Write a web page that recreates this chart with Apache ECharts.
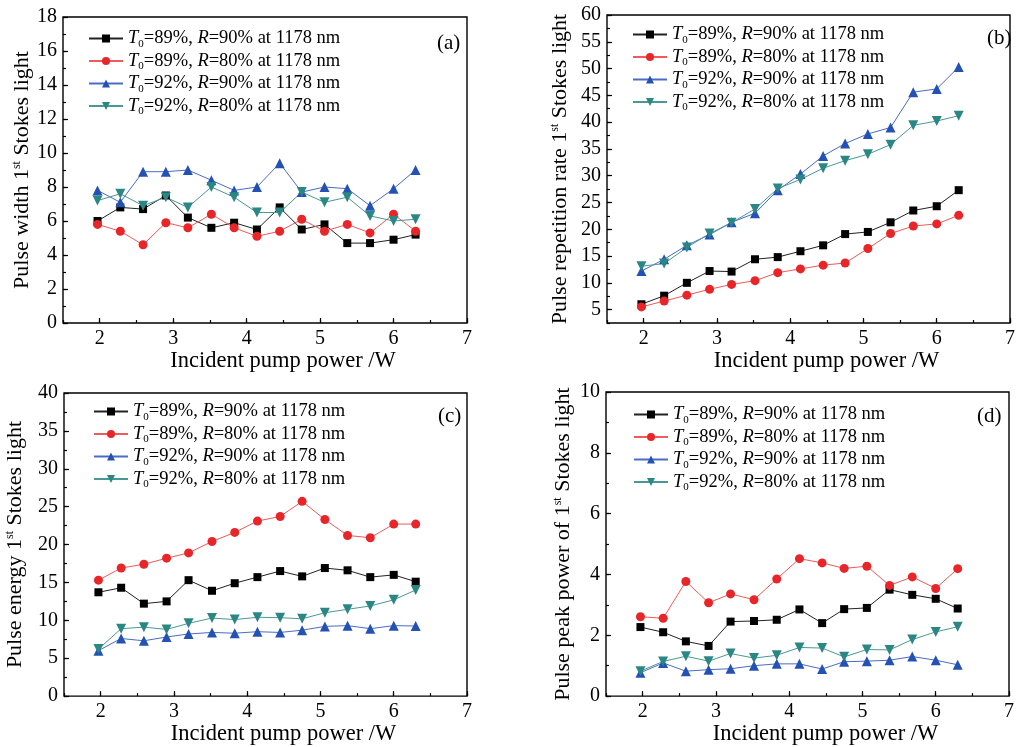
<!DOCTYPE html>
<html>
<head>
<meta charset="utf-8">
<script src="https://cdn.jsdelivr.net/npm/echarts@6/dist/echarts.min.js"></script>
<style>
  html, body { margin: 0; padding: 0; background: #fff; }
  #chart { width: 1018px; height: 747px; }
</style>
</head>
<body>
<div id="chart"></div>
<script>
// incident pump power (W), same for every curve
var power = [1.97, 2.28, 2.59, 2.90, 3.20, 3.52, 3.83, 4.14, 4.45, 4.75, 5.06, 5.37, 5.68, 6.00, 6.30];

var seriesNames = ['T0=89%, R=90% at 1178 nm', 'T0=89%, R=80% at 1178 nm', 'T0=92%, R=90% at 1178 nm', 'T0=92%, R=80% at 1178 nm'];
var legendT0 = ['89', '89', '92', '92'];
var legendR = ['90', '80', '90', '80'];

// (a) pulse width
var widthT89R90 = [6.0, 6.8, 6.7, 7.5, 6.2, 5.6, 5.9, 5.5, 6.8, 5.5, 5.8, 4.7, 4.7, 4.9, 5.2];
var widthT89R80 = [5.8, 5.4, 4.6, 5.9, 5.6, 6.4, 5.6, 5.1, 5.4, 6.1, 5.4, 5.8, 5.3, 6.4, 5.4];
var widthT92R90 = [7.8, 7.1, 8.9, 8.9, 9.0, 8.4, 7.8, 8.0, 9.4, 7.7, 8.0, 7.9, 6.9, 7.9, 9.0];
var widthT92R80 = [7.2, 7.6, 6.9, 7.4, 6.8, 8.0, 7.4, 6.5, 6.5, 7.7, 7.1, 7.4, 6.3, 6.0, 6.1];

// (b) pulse repetition rate
var rateT89R90 = [6.0, 7.6, 10.0, 12.2, 12.1, 14.4, 14.8, 15.9, 17.0, 19.1, 19.5, 21.3, 23.5, 24.3, 27.3];
var rateT89R80 = [5.5, 6.6, 7.7, 8.8, 9.7, 10.4, 11.9, 12.6, 13.3, 13.7, 16.4, 19.2, 20.6, 21.0, 22.6];
var rateT92R90 = [12.2, 14.4, 17.0, 19.0, 21.3, 23.0, 27.3, 30.3, 33.7, 36.0, 37.8, 39.0, 45.6, 46.2, 50.3];
var rateT92R80 = [13.1, 13.6, 16.6, 19.2, 21.2, 23.8, 27.6, 29.3, 31.4, 32.8, 34.0, 35.8, 39.4, 40.2, 41.2];

// (c) pulse energy
var energyT89R90 = [13.7, 14.3, 12.2, 12.5, 15.3, 13.9, 14.9, 15.7, 16.5, 15.8, 16.9, 16.6, 15.7, 16.0, 15.1];
var energyT89R80 = [15.3, 16.9, 17.4, 18.2, 18.9, 20.4, 21.6, 23.1, 23.7, 25.7, 23.3, 21.2, 20.9, 22.7, 22.7];
var energyT92R90 = [6.0, 7.6, 7.3, 7.8, 8.2, 8.4, 8.3, 8.5, 8.4, 8.7, 9.2, 9.3, 8.9, 9.3, 9.25];
var energyT92R80 = [6.2, 8.9, 9.1, 8.8, 9.6, 10.3, 10.1, 10.4, 10.35, 10.2, 11.0, 11.45, 11.9, 12.7, 14.0];

// (d) pulse peak power
var peakT89R90 = [2.27, 2.10, 1.80, 1.65, 2.45, 2.47, 2.51, 2.85, 2.40, 2.86, 2.90, 3.50, 3.33, 3.20, 2.88];
var peakT89R80 = [2.61, 2.56, 3.77, 3.07, 3.36, 3.17, 3.85, 4.52, 4.38, 4.20, 4.27, 3.64, 3.92, 3.54, 4.19];
var peakT92R90 = [0.77, 1.09, 0.82, 0.87, 0.90, 1.00, 1.06, 1.06, 0.89, 1.13, 1.15, 1.18, 1.30, 1.18, 1.03];
var peakT92R80 = [0.82, 1.14, 1.31, 1.15, 1.40, 1.25, 1.34, 1.60, 1.58, 1.29, 1.53, 1.52, 1.86, 2.11, 2.28];

var xTicks = [2, 3, 4, 5, 6, 7];
var widthTicks = [0, 2, 4, 6, 8, 10, 12, 14, 16, 18];
var rateTicks = [5, 10, 15, 20, 25, 30, 35, 40, 45, 50, 55, 60];
var energyTicks = [0, 5, 10, 15, 20, 25, 30, 35, 40];
var peakTicks = [0, 2, 4, 6, 8, 10];

var serif = 'Liberation Serif';
var colors = ['#000000', '#e8262a', '#2452b4', '#2a8783'];
var lineColors = ['#222222', '#f05a5a', '#4a6cc4', '#4a9894'];
var symbols = ['rect', 'circle', 'triangle', 'path://M0,0 L10,0 L5,9 Z'];
var symbolSizes = [8, 9, 10, 10];

var panels = [
    { tag: '(a)', grid: { left: 63, top: 17, width: 404, height: 306 }, yMin: 0, yMax: 18, yTicks: widthTicks, yMinor: 1,
      yName: 'Pulse width 1{sup|st} Stokes light', yGap: 30, data: [widthT89R90, widthT89R80, widthT92R90, widthT92R80],
      legend: { left: 83, top: 24 }, tagPos: { left: 432, top: 28 } },
    { tag: '(b)', grid: { left: 607, top: 15, width: 406, height: 308 }, yMin: 2.5, yMax: 60, yTicks: rateTicks, yMinor: 2.5,
      yName: 'Pulse repetition rate 1{sup|st} Stokes light', yGap: 36, data: [rateT89R90, rateT89R80, rateT92R90, rateT92R80],
      legend: { left: 627, top: 20 }, tagPos: { left: 982, top: 23 } },
    { tag: '(c)', grid: { left: 64, top: 393, width: 403, height: 304 }, yMin: 0, yMax: 40, yTicks: energyTicks, yMinor: 2.5,
      yName: 'Pulse energy 1{sup|st} Stokes light', yGap: 38, data: [energyT89R90, energyT89R80, energyT92R90, energyT92R80],
      legend: { left: 88, top: 397 }, tagPos: { left: 433, top: 401 } },
    { tag: '(d)', grid: { left: 606, top: 392, width: 403, height: 305 }, yMin: 0, yMax: 10, yTicks: peakTicks, yMinor: 1,
      yName: 'Pulse peak power of 1{sup|st} Stokes light', yGap: 32, data: [peakT89R90, peakT89R80, peakT92R90, peakT92R80],
      legend: { left: 628, top: 400 }, tagPos: { left: 972, top: 401 } }
];

var chart = echarts.init(document.getElementById('chart'));

var grids = [], xAxes = [], yAxes = [], series = [], legends = [], titles = [];

panels.forEach(function (p, k) {
    grids.push(Object.assign({ show: true, borderColor: '#000', borderWidth: 1.4, backgroundColor: 'transparent' }, p.grid));

    // main x axis: labels and long ticks
    xAxes.push({
        type: 'value', gridIndex: k, min: 1.5, max: 7, position: 'bottom',
        name: 'Incident pump power /W', nameLocation: 'middle', nameGap: 25,
        nameTextStyle: { fontFamily: serif, fontSize: 22.5, color: '#000', padding: [0, 0, 0, 36] },
        axisLine: { show: false, onZero: false },
        axisTick: { show: true, inside: true, length: 5, customValues: xTicks, lineStyle: { color: '#000', width: 1.2 } },
        axisLabel: { customValues: xTicks, fontFamily: serif, fontSize: 20, color: '#000', margin: 6 },
        splitLine: { show: false }
    });
    // minor x ticks
    xAxes.push({
        type: 'value', gridIndex: k, min: 1.5, max: 7, interval: 0.5, position: 'bottom',
        axisLine: { show: false, onZero: false },
        axisTick: { show: true, inside: true, length: 3, lineStyle: { color: '#000', width: 1.2 } },
        axisLabel: { show: false }, splitLine: { show: false }
    });

    yAxes.push({
        type: 'value', gridIndex: k, min: p.yMin, max: p.yMax, position: 'left',
        name: p.yName, nameLocation: 'middle', nameGap: p.yGap,
        nameTextStyle: { fontFamily: serif, fontSize: 22, color: '#000',
            rich: { sup: { fontFamily: serif, fontSize: 12, color: '#000', padding: [0, 0, 10, 0] } } },
        axisLine: { show: false, onZero: false },
        axisTick: { show: true, inside: true, length: 5, customValues: p.yTicks, lineStyle: { color: '#000', width: 1.2 } },
        axisLabel: { customValues: p.yTicks, fontFamily: serif, fontSize: 20, color: '#000', margin: 6 },
        splitLine: { show: false }
    });
    yAxes.push({
        type: 'value', gridIndex: k, min: p.yMin, max: p.yMax, interval: p.yMinor, position: 'left',
        axisLine: { show: false, onZero: false },
        axisTick: { show: true, inside: true, length: 3, lineStyle: { color: '#000', width: 1.2 } },
        axisLabel: { show: false }, splitLine: { show: false }
    });

    p.data.forEach(function (vals, s) {
        series.push({
            name: seriesNames[s], type: 'line',
            xAxisIndex: 2 * k, yAxisIndex: 2 * k,
            data: power.map(function (x, i) { return [x, vals[i]]; }),
            symbol: symbols[s], symbolSize: symbolSizes[s],
            lineStyle: { color: lineColors[s], width: 1 },
            itemStyle: { color: colors[s] },
            animation: false
        });
    });

    legends.push({
        orient: 'vertical', left: p.legend.left, top: p.legend.top,
        itemWidth: 34, itemHeight: 10, itemGap: 2,
        data: seriesNames,
        selectedMode: false,
        formatter: function (name) {
            var s = seriesNames.indexOf(name);
            return '{i|T}{s|0}{n|=' + legendT0[s] + '%, }{i|R}{n|=' + legendR[s] + '% at 1178 nm}';
        },
        textStyle: {
            color: '#000', fontFamily: serif, fontSize: 18.5,
            rich: {
                n: { fontFamily: serif, fontSize: 18.5, color: '#000', lineHeight: 21 },
                i: { fontFamily: serif, fontSize: 18.5, fontStyle: 'italic', color: '#000', lineHeight: 21 },
                s: { fontFamily: serif, fontSize: 11, color: '#000', padding: [11, 0, 0, 0] }
            }
        }
    });

    titles.push({
        text: p.tag, left: p.tagPos.left, top: p.tagPos.top,
        textStyle: { fontFamily: serif, fontSize: 21, fontWeight: 'normal', color: '#000' }
    });
});

chart.setOption({
    backgroundColor: '#fff',
    animation: false,
    title: titles,
    legend: legends,
    grid: grids,
    xAxis: xAxes,
    yAxis: yAxes,
    series: series
});
</script>
</body>
</html>
